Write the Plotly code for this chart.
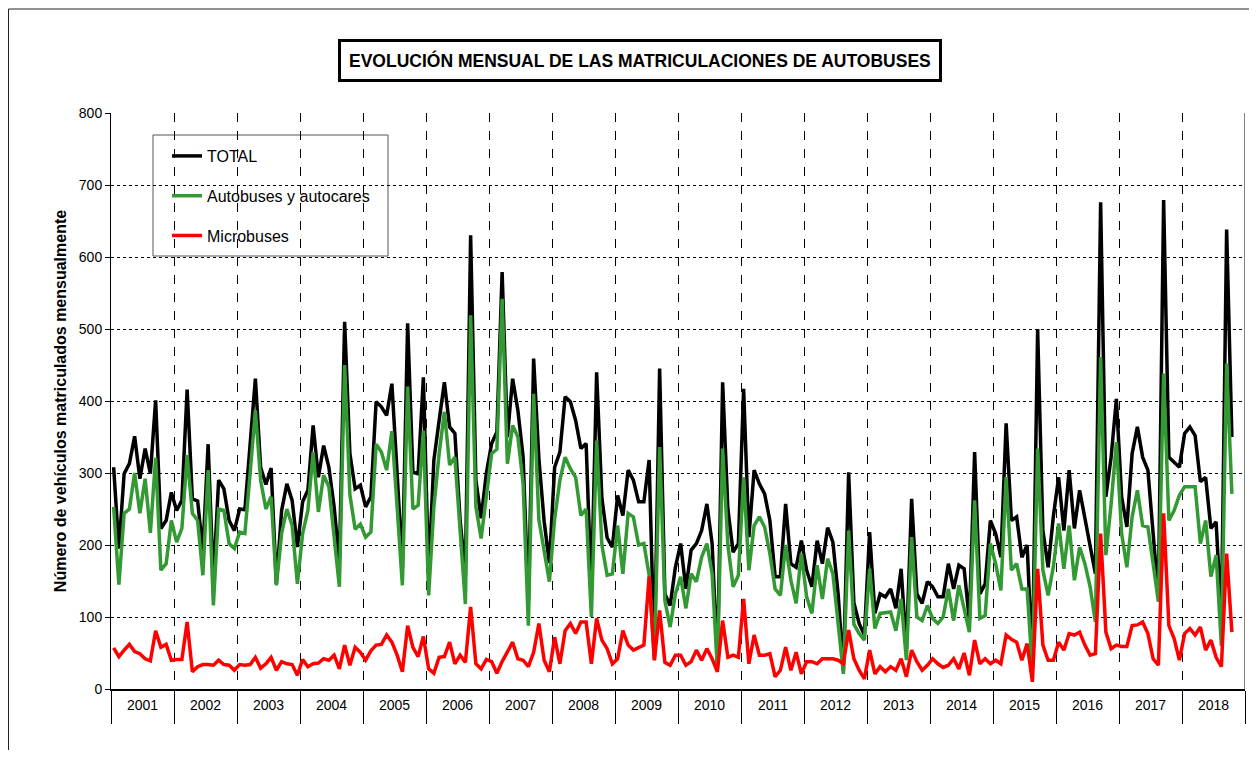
import plotly.graph_objects as go

# Matriculaciones mensuales de autobuses, ene-2001 a oct-2018
YEARS = ["2001", "2002", "2003", "2004", "2005", "2006", "2007", "2008", "2009",
         "2010", "2011", "2012", "2013", "2014", "2015", "2016", "2017", "2018"]

TOTAL = [
    308, 195, 299, 313, 351, 292, 334, 299, 401, 223, 234, 273,  # 2001
    248, 262, 416, 264, 261, 192, 340, 150, 290, 278, 234, 220,  # 2002
    250, 249, 340, 431, 308, 284, 307, 146, 248, 285, 262, 197,  # 2003
    260, 276, 366, 294, 338, 308, 253, 175, 510, 327, 278, 283,  # 2004
    253, 267, 399, 392, 380, 424, 300, 168, 508, 301, 299, 433,  # 2005
    160, 318, 373, 426, 364, 355, 234, 160, 630, 290, 237, 300,  # 2006
    341, 357, 579, 350, 431, 387, 322, 120, 459, 320, 233, 175,  # 2007
    308, 329, 406, 399, 373, 334, 341, 135, 440, 265, 210, 197,  # 2008
    269, 241, 304, 290, 260, 260, 318, 45, 445, 132, 116, 169,   # 2009
    202, 139, 193, 202, 220, 257, 202, 35, 426, 250, 190, 202,   # 2010
    417, 211, 304, 285, 271, 234, 156, 156, 257, 174, 169, 206,  # 2011
    165, 142, 206, 174, 224, 204, 132, 25, 301, 120, 91, 75,     # 2012
    218, 105, 132, 128, 139, 112, 167, 55, 264, 132, 119, 149,   # 2013
    142, 128, 128, 174, 139, 172, 167, 95, 329, 132, 146, 234,   # 2014
    216, 183, 369, 234, 239, 183, 200, 36, 500, 220, 169, 240,   # 2015
    294, 220, 304, 223, 276, 239, 197, 160, 676, 267, 322, 403,  # 2016
    267, 225, 327, 364, 322, 304, 216, 128, 679, 322, 315, 308,  # 2017
    355, 364, 352, 288, 294, 223, 232, 95, 638, 350,             # 2018
]

AUTOBUSES = [
    253, 145, 244, 250, 300, 244, 292, 217, 321, 165, 174, 234,
    204, 223, 325, 244, 234, 158, 304, 116, 250, 248, 202, 195,
    218, 216, 300, 387, 290, 250, 267, 144, 216, 250, 227, 146,
    216, 248, 329, 246, 297, 281, 211, 142, 450, 270, 222, 229,
    211, 218, 340, 329, 304, 358, 253, 144, 420, 250, 255, 359,
    130, 253, 327, 385, 311, 322, 220, 118, 519, 253, 209, 267,
    327, 333, 542, 313, 366, 350, 285, 88, 410, 235, 193, 149,
    236, 290, 322, 306, 294, 241, 250, 100, 345, 200, 158, 160,
    227, 160, 244, 239, 200, 202, 158, 40, 336, 123, 86, 132,
    156, 112, 160, 149, 183, 202, 160, 28, 334, 200, 142, 158,
    294, 165, 227, 239, 225, 188, 139, 130, 200, 151, 119, 188,
    128, 105, 172, 125, 181, 160, 91, 21, 220, 90, 77, 68,
    167, 84, 105, 106, 107, 81, 125, 40, 211, 100, 95, 116,
    98, 91, 100, 139, 95, 144, 109, 79, 262, 98, 102, 202,
    174, 137, 294, 165, 174, 139, 139, 26, 334, 165, 130, 170,
    230, 167, 227, 151, 197, 174, 142, 93, 461, 186, 257, 343,
    216, 169, 239, 276, 227, 225, 174, 121, 438, 234, 248, 269,
    281, 281, 281, 202, 234, 156, 186, 60, 452, 271,
]

MICROBUSES = [
    57, 45, 54, 62, 52, 49, 42, 39, 81, 58, 62, 40,
    41, 41, 93, 24, 31, 34, 34, 33, 40, 34, 33, 26,
    34, 33, 34, 44, 29, 35, 44, 26, 38, 35, 34, 19,
    41, 31, 35, 36, 42, 40, 47, 28, 61, 33, 58, 51,
    40, 53, 61, 62, 75, 65, 47, 24, 88, 58, 45, 73,
    28, 22, 44, 45, 65, 35, 47, 37, 114, 35, 28, 41,
    38, 22, 38, 51, 65, 42, 40, 31, 51, 91, 40, 24,
    72, 35, 81, 91, 77, 93, 93, 35, 98, 68, 56, 35,
    42, 81, 61, 54, 58, 61, 156, 40, 109, 37, 33, 47,
    47, 33, 38, 54, 40, 56, 42, 24, 95, 44, 47, 44,
    125, 35, 75, 47, 47, 49, 17, 26, 58, 26, 51, 21,
    38, 38, 35, 42, 42, 42, 40, 35, 82, 42, 26, 14,
    54, 21, 31, 24, 31, 26, 42, 17, 54, 38, 26, 33,
    42, 35, 30, 33, 42, 28, 50, 19, 68, 35, 42, 35,
    40, 35, 75, 69, 65, 40, 63, 10, 167, 61, 40, 40,
    65, 54, 77, 75, 79, 61, 47, 49, 216, 79, 56, 61,
    59, 59, 88, 89, 93, 77, 42, 33, 244, 88, 70, 40,
    77, 84, 75, 86, 54, 68, 44, 31, 188, 79,
]

FONT = "Liberation Sans, Arial, sans-serif"
# la página deja 8px de margen en el body: la figura se dibuja desplazada
OFF = 8
W, H = 1257 - 2 * OFF, 758 - 2 * OFF
L, T = 111 - OFF, 113 - OFF
R = W - (1245 - OFF)
B = H - (689 - OFF)
PW, PH = W - L - R, H - T - B


def px(x):
    # x en píxeles de pantalla -> papel
    return (x - OFF - L) / PW


def py(y):
    return (H - B - (y - OFF)) / PH


n_months = 12 * len(YEARS)
x_vals = [i + 0.5 for i in range(len(TOTAL))]

fig = go.Figure()
series = [
    ("TOTAL", TOTAL, "#000000"),
    ("Autobuses y autocares", AUTOBUSES, "#339933"),
    ("Microbuses", MICROBUSES, "#ff0000"),
]
for name, vals, color in series:
    fig.add_trace(go.Scatter(
        x=x_vals, y=vals, name=name, legendgroup=name,
        mode="lines", line=dict(color=color, width=3.5),
        hoverinfo="skip"
    ))

# etiquetas de año centradas en cada tramo
annotations = []
for k, yr in enumerate(YEARS):
    annotations.append(dict(
        x=12 * k + 6, y=py(705), xref="x", yref="paper",
        xanchor="center", yanchor="middle",
        text=yr, showarrow=False, font=dict(size=14, color="black", family=FONT)
    ))

# título en caja
annotations.append(dict(
    x=px(639.5), y=py(60.5), xref="paper", yref="paper",
    xanchor="center", yanchor="middle",
    text="<b>EVOLUCIÓN MENSUAL DE LAS MATRICULACIONES DE AUTOBUSES</b>",
    showarrow=False, font=dict(size=17.5, color="black", family=FONT),
    bordercolor="black", borderwidth=3, borderpad=8, bgcolor="white"
))

shapes = [
    # marco exterior
    dict(type="line", xref="paper", yref="paper", x0=px(8.5), x1=px(8.5), y0=py(9), y1=py(760),
         line=dict(color="#222", width=1)),
    dict(type="line", xref="paper", yref="paper", x0=px(8.5), x1=px(1257), y0=py(9), y1=py(9),
         line=dict(color="#222", width=1)),
    # borde derecho del área de trazado
    dict(type="line", xref="x", yref="y", x0=n_months, x1=n_months, y0=0, y1=800,
         line=dict(color="black", width=1)),
    # caja de la leyenda
    dict(type="rect", xref="paper", yref="paper", x0=px(153), x1=px(388), y0=py(135), y1=py(256),
         line=dict(color="#555", width=1), fillcolor="white", layer="between"),
]

fig.update_layout(
    width=W, height=H,
    margin=dict(l=L, r=R, t=T, b=B),
    paper_bgcolor="white", plot_bgcolor="white",
    font=dict(family=FONT, color="black", size=14),
    showlegend=True,
    legend=dict(
        x=px(167), y=py(139), xanchor="left", yanchor="top",
        bgcolor="rgba(0,0,0,0)", borderwidth=0,
        font=dict(size=16, family=FONT, color="black"),
        tracegroupgap=16, itemwidth=30
    ),
    xaxis=dict(
        range=[0, n_months], tickmode="array",
        tickvals=list(range(0, n_months + 1, 12)),
        ticktext=[""] * (len(YEARS) + 1),
        showgrid=True, gridcolor="black", griddash="dash", gridwidth=1,
        ticks="outside", ticklen=33, tickcolor="black", tickwidth=1,
        showline=True, linecolor="black", linewidth=2, zeroline=False
    ),
    yaxis=dict(
        range=[0, 800], dtick=100, tick0=0,
        showgrid=True, gridcolor="black", griddash="dot", gridwidth=1,
        ticks="outside", ticklen=5, tickcolor="black",
        showline=True, linecolor="black", linewidth=1, zeroline=False,
        tickfont=dict(size=14, family=FONT),
        title=dict(text="<b>Número de vehículos matriculados mensualmente</b>",
                   font=dict(size=16, family=FONT), standoff=8)
    ),
    annotations=annotations,
    shapes=shapes,
)

fig.write_html("out.html")
